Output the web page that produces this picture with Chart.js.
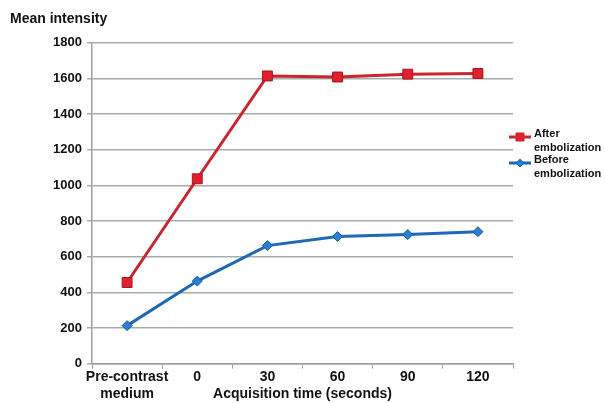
<!DOCTYPE html>
<html><head><meta charset="utf-8">
<script src="https://cdn.jsdelivr.net/npm/chart.js@4/dist/chart.umd.min.js"></script>
<style>html,body{margin:0;padding:0;background:#fff}#wrap{width:605px;height:403px;position:relative}</style>
</head><body><div id="wrap"><canvas id="c" width="605" height="403"></canvas></div>
<script>
const categories = [["Pre-contrast","medium"], "0", "30", "60", "90", "120"];
const afterEmbolization = [455, 1037, 1614, 1608, 1624, 1628];
const beforeEmbolization = [213, 463, 662, 713, 724, 740];
const seriesNames = [["After","embolization"], ["Before","embolization"]];
const yTicks = [0, 200, 400, 600, 800, 1000, 1200, 1400, 1600, 1800];

const FONT = "'Liberation Sans', Arial, sans-serif";
const RED = '#c8252e', RED_FILL = '#e0202d', BLUE = '#1f68b8', BLUE_FILL = '#2b7fd2';

const legendPlugin = {
  id: 'sideLegend',
  afterDraw(chart) {
    const ctx = chart.ctx;
    const items = [
      {name: seriesNames[0], line: RED, fill: RED_FILL, style: 'rect', y: 137},
      {name: seriesNames[1], line: BLUE, fill: BLUE_FILL, style: 'rectRot', y: 163}
    ];
    ctx.save();
    items.forEach(it => {
      ctx.strokeStyle = it.line; ctx.lineWidth = 3;
      ctx.beginPath(); ctx.moveTo(509, it.y); ctx.lineTo(531, it.y); ctx.stroke();
      ctx.fillStyle = it.fill; ctx.strokeStyle = it.line; ctx.lineWidth = 1;
      ctx.beginPath();
      if (it.style === 'rect') { ctx.rect(516, it.y - 4, 8, 8); }
      else { ctx.moveTo(520, it.y - 4); ctx.lineTo(524, it.y); ctx.lineTo(520, it.y + 4); ctx.lineTo(516, it.y); ctx.closePath(); }
      ctx.fill(); ctx.stroke();
      ctx.fillStyle = '#111'; ctx.font = 'bold 11px ' + FONT; ctx.textBaseline = 'middle'; ctx.textAlign = 'left';
      ctx.fillText(it.name[0], 534, it.y - 3);
      ctx.fillText(it.name[1], 534, it.y + 11);
    });
    ctx.restore();
  }
};

new Chart(document.getElementById('c'), {
  type: 'line',
  data: {
    labels: categories,
    datasets: [
      {label: 'After embolization', data: afterEmbolization, borderColor: RED, backgroundColor: RED_FILL,
       pointStyle: 'rect', pointRadius: 7, pointBorderColor: '#a01820', pointBorderWidth: 1, borderWidth: 3, tension: 0},
      {label: 'Before embolization', data: beforeEmbolization, borderColor: BLUE, backgroundColor: BLUE_FILL,
       pointStyle: 'rectRot', pointRadius: 5, pointBorderColor: '#1a5aa0', pointBorderWidth: 1, borderWidth: 3, tension: 0}
    ]
  },
  options: {
    responsive: false, animation: false, devicePixelRatio: 1,
    layout: {padding: {left: 10, right: 92, top: 0, bottom: 0}},
    plugins: {
      legend: {display: false}, tooltip: {enabled: false},
      title: {display: true, text: 'Mean intensity', align: 'start', color: '#111',
              font: {family: FONT, size: 14, weight: 'bold'}, padding: {top: 11, bottom: 15}}
    },
    scales: {
      x: {
        offset: true,
        grid: {display: true, drawOnChartArea: false, drawTicks: true, tickLength: 5, color: '#9aa0a0', offset: true},
        border: {display: true, color: '#9aa0a0', width: 1.5},
        ticks: {color: '#111', font: {family: FONT, size: 14, weight: 'bold', lineHeight: 1.2}, maxRotation: 0, autoSkip: false, padding: 0},
        title: {display: true, text: 'Acquisition time (seconds)', color: '#111',
                font: {family: FONT, size: 14, weight: 'bold'}, padding: {top: -16, bottom: 0}}
      },
      y: {
        min: 0, max: 1800,
        afterBuildTicks(axis) { axis.ticks = yTicks.map(v => ({value: v})); },
        afterFit(axis) { axis.width = 82; },
        grid: {color: '#a5acac', lineWidth: 1.5, tickLength: 5, drawTicks: true},
        border: {display: true, color: '#9aa0a0', width: 1.5},
        ticks: {color: '#111', font: {family: FONT, size: 13, weight: 'bold'}, padding: 5,
                callback: v => String(v)}
      }
    }
  },
  plugins: [legendPlugin]
});
</script></body></html>
